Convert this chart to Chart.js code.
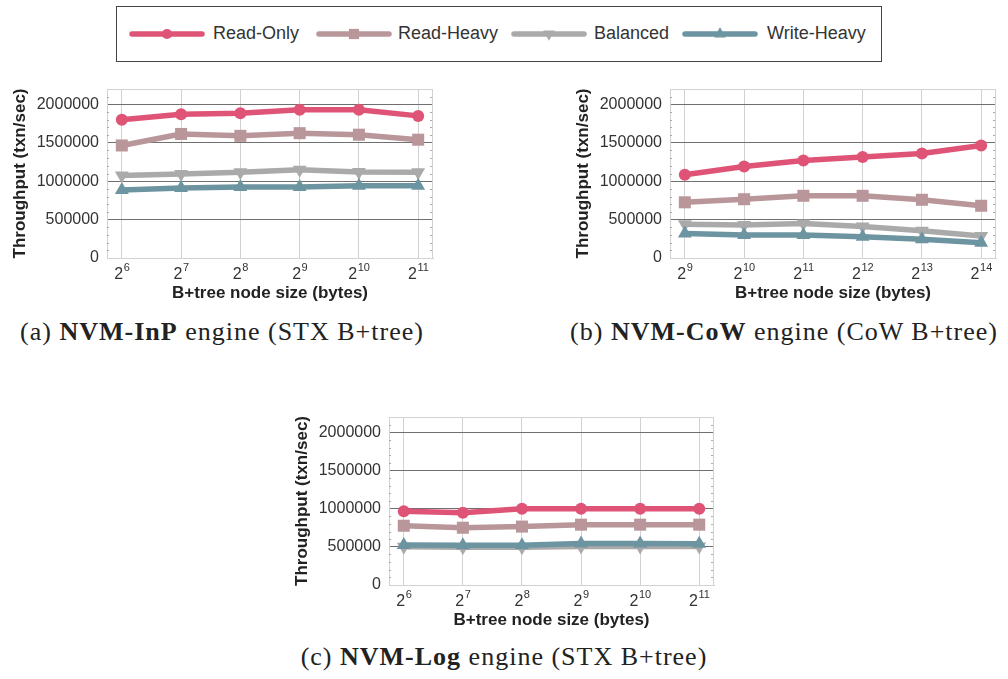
<!DOCTYPE html>
<html>
<head>
<meta charset="utf-8">
<script src="https://cdn.jsdelivr.net/npm/chart.js@4.4.0/dist/chart.umd.min.js"></script>
<style>
body { margin: 0; background: #fff; width: 1008px; height: 679px; position: relative; overflow: hidden; font-family: "Liberation Sans", Arial, sans-serif; }
.chart { position: absolute; }
#legend { position: absolute; left: 116px; top: 6px; width: 766px; height: 56px; border: 1.5px solid #444; box-sizing: border-box; }
#legend canvas { position: absolute; top: 17px; }
#legend span { position: absolute; top: 0; line-height: 53px; font-size: 18px; color: #333; }
.cap { position: absolute; font-family: "Liberation Serif", "Times New Roman", serif; font-size: 26px; letter-spacing: 1px; color: #222; white-space: nowrap; transform: translateX(-50%); }
</style>
</head>
<body>

<div id="legend"></div>

<canvas id="chart-inp" class="chart" width="445" height="230" style="left:0px;top:80px"></canvas>
<canvas id="chart-cow" class="chart" width="445" height="230" style="left:563px;top:80px"></canvas>
<canvas id="chart-log" class="chart" width="445" height="230" style="left:282px;top:407px"></canvas>

<div class="cap" style="left:222px;top:317px">(a) <b>NVM-InP</b> engine (STX B+tree)</div>
<div class="cap" style="left:784px;top:317px">(b) <b>NVM-CoW</b> engine (CoW B+tree)</div>
<div class="cap" style="left:504px;top:642px">(c) <b>NVM-Log</b> engine (STX B+tree)</div>

<script>
const seriesNames = ["Read-Only", "Read-Heavy", "Balanced", "Write-Heavy"];
const seriesColors = ["#df5476", "#b8969a", "#aaaaaa", "#6d94a1"];

const yTicks = [0, 500000, 1000000, 1500000, 2000000];
const yMax = 2200000;

// (a) NVM-InP
const inpExp = [6, 7, 8, 9, 10, 11];
const inpReadOnly = [1800000, 1870000, 1885000, 1930000, 1930000, 1850000];
const inpReadHeavy = [1465000, 1615000, 1590000, 1625000, 1605000, 1540000];
const inpBalanced = [1075000, 1095000, 1115000, 1150000, 1120000, 1115000];
const inpWriteHeavy = [885000, 910000, 925000, 925000, 940000, 940000];

// (b) NVM-CoW
const cowExp = [9, 10, 11, 12, 13, 14];
const cowReadOnly = [1085000, 1190000, 1270000, 1315000, 1360000, 1465000];
const cowReadHeavy = [725000, 765000, 810000, 810000, 758000, 680000];
const cowBalanced = [440000, 430000, 450000, 410000, 355000, 285000];
const cowWriteHeavy = [320000, 298000, 300000, 278000, 243000, 200000];

// (c) NVM-Log
const logExp = [6, 7, 8, 9, 10, 11];
const logReadOnly = [965000, 945000, 1000000, 1000000, 1000000, 1000000];
const logReadHeavy = [776000, 750000, 765000, 790000, 790000, 790000];
const logBalanced = [500000, 495000, 495000, 505000, 505000, 505000];
const logWriteHeavy = [525000, 520000, 522000, 545000, 545000, 540000];

const markers = [
    { pointStyle: "circle", radius: 6, rotation: 0 },
    { pointStyle: "rect", radius: 8.5, rotation: 0 },
    { pointStyle: "triangle", radius: 8, rotation: 180 },
    { pointStyle: "triangle", radius: 8, rotation: 0 },
];

const LIGHT = "#d2d2d2";
const DARK = "#707070";

// top/right border of the plot box plus the little minor ticks on both sides
const framePlugin = {
    id: "frame",
    beforeDatasetsDraw(chart) {
        const { ctx, chartArea: a, scales } = chart;
        ctx.save();
        ctx.strokeStyle = LIGHT;
        ctx.lineWidth = 1;
        ctx.beginPath();
        ctx.moveTo(a.left, a.top + 0.5);
        ctx.lineTo(a.right, a.top + 0.5);
        ctx.moveTo(a.right - 0.5, a.top);
        ctx.lineTo(a.right - 0.5, a.bottom);
        ctx.stroke();

        ctx.strokeStyle = "#aaa";
        ctx.beginPath();
        for (let v = 100000; v < yMax; v += 100000) {
            if (v % 500000 === 0) continue;
            const y = Math.round(scales.y.getPixelForValue(v)) + 0.5;
            ctx.moveTo(a.left, y);
            ctx.lineTo(a.left + 2, y);
            ctx.moveTo(a.right - 3, y);
            ctx.lineTo(a.right - 1, y);
        }
        ctx.stroke();
        ctx.restore();
    }
};

// x tick labels as 2 with a raised exponent
const expTickPlugin = {
    id: "expTicks",
    afterDraw(chart) {
        const { ctx, chartArea: a, scales } = chart;
        const sx = scales.x;
        ctx.save();
        ctx.fillStyle = "#333";
        ctx.textBaseline = "alphabetic";
        ctx.textAlign = "left";
        sx.ticks.forEach(t => {
            const x = sx.getPixelForValue(t.value);
            const exp = String(t.value);
            ctx.font = "16px 'Liberation Sans', Arial, sans-serif";
            const wBase = ctx.measureText("2").width;
            ctx.font = "11px 'Liberation Sans', Arial, sans-serif";
            const wExp = ctx.measureText(exp).width;
            const start = x - (wBase + wExp) / 2;
            ctx.font = "16px 'Liberation Sans', Arial, sans-serif";
            ctx.fillText("2", start, a.bottom + 21);
            ctx.font = "11px 'Liberation Sans', Arial, sans-serif";
            ctx.fillText(exp, start + wBase + 0.5, a.bottom + 13);
        });
        ctx.restore();
    }
};

function makeChart(id, exps, series, padRight, padTop) {
    const datasets = series.map((values, i) => ({
        label: seriesNames[i],
        data: values.map((v, j) => ({ x: exps[j], y: v })),
        borderColor: seriesColors[i],
        backgroundColor: seriesColors[i],
        borderWidth: 5.5,
        borderCapStyle: "round",
        borderJoinStyle: "round",
        pointStyle: markers[i].pointStyle,
        pointRadius: markers[i].radius,
        pointRotation: markers[i].rotation,
        pointBorderWidth: 0,
        order: 3 - i,
        tension: 0
    }));

    return new Chart(document.getElementById(id), {
        type: "line",
        data: { datasets: datasets },
        options: {
            responsive: false,
            animation: false,
            devicePixelRatio: 1,
            layout: { padding: { top: padTop, right: padRight, left: 0, bottom: 0 } },
            plugins: {
                legend: { display: false },
                tooltip: { enabled: false }
            },
            scales: {
                x: {
                    type: "linear",
                    min: exps[0] - 0.25,
                    max: exps[exps.length - 1] + 0.25,
                    afterBuildTicks: s => { s.ticks = exps.map(v => ({ value: v })); },
                    afterFit: s => { s.height = 52; s.paddingLeft = 0; s.paddingRight = 0; },
                    grid: { color: LIGHT, lineWidth: 1, drawTicks: false },
                    border: { color: LIGHT },
                    ticks: { display: false },
                    title: {
                        display: true,
                        text: "B+tree node size (bytes)",
                        font: { family: "'Liberation Sans', Arial, sans-serif", size: 17, weight: "bold" },
                        color: "#222",
                        padding: { top: 0, bottom: 6 }
                    }
                },
                y: {
                    min: 0,
                    max: yMax,
                    afterBuildTicks: s => { s.ticks = yTicks.map(v => ({ value: v })); },
                    afterFit: s => { s.width = 107; s.paddingTop = 0; s.paddingBottom = 0; },
                    grid: {
                        color: c => (c.tick && c.tick.value > 0 ? DARK : LIGHT),
                        lineWidth: 1,
                        drawTicks: false
                    },
                    border: { color: LIGHT },
                    ticks: {
                        font: { family: "'Liberation Sans', Arial, sans-serif", size: 16 },
                        color: "#333",
                        padding: 8,
                        callback: v => String(v)
                    },
                    title: {
                        display: true,
                        text: "Throughput (txn/sec)",
                        font: { family: "'Liberation Sans', Arial, sans-serif", size: 17, weight: "bold" },
                        color: "#222",
                        padding: { top: 10, bottom: 0 }
                    }
                }
            }
        },
        plugins: [framePlugin, expTickPlugin]
    });
}

makeChart("chart-inp", inpExp, [inpReadOnly, inpReadHeavy, inpBalanced, inpWriteHeavy], 12, 9);
makeChart("chart-cow", cowExp, [cowReadOnly, cowReadHeavy, cowBalanced, cowWriteHeavy], 12, 9);
makeChart("chart-log", logExp, [logReadOnly, logReadHeavy, logBalanced, logWriteHeavy], 13, 10);

// shared legend at the top
function buildLegend() {
    const box = document.getElementById("legend");
    const lineLeft = [15, 202, 397, 568];
    const textLeft = [96, 281, 477, 650];
    seriesNames.forEach((name, i) => {
        const c = document.createElement("canvas");
        c.width = 82;
        c.height = 20;
        c.style.left = (lineLeft[i] - 5) + "px";
        box.appendChild(c);
        const ctx = c.getContext("2d");
        ctx.strokeStyle = seriesColors[i];
        ctx.fillStyle = seriesColors[i];
        ctx.lineWidth = 5.5;
        ctx.lineCap = "round";
        ctx.beginPath();
        ctx.moveTo(5, 10);
        ctx.lineTo(75, 10);
        ctx.stroke();
        if (Chart.helpers && Chart.helpers.drawPoint) {
            Chart.helpers.drawPoint(ctx, {
                pointStyle: markers[i].pointStyle,
                radius: markers[i].radius * 0.85,
                rotation: markers[i].rotation,
                borderWidth: 0
            }, 40, 10);
        }
        const s = document.createElement("span");
        s.style.left = textLeft[i] + "px";
        s.textContent = name;
        box.appendChild(s);
    });
}
buildLegend();
</script>
</body>
</html>
